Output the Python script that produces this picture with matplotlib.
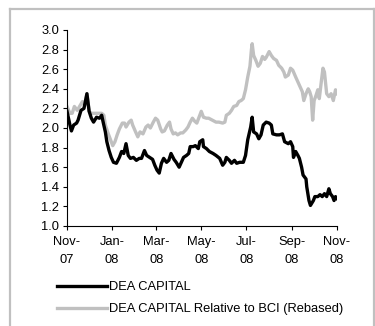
import matplotlib
matplotlib.use("Agg")
import matplotlib.pyplot as plt
import matplotlib.lines as mlines
import pandas as pd

plt.rcParams["font.family"] = ["Liberation Sans", "DejaVu Sans"]
plt.rcParams["font.size"] = 9.3

# days since 1 Nov 2007
dea_days = [0, 4, 6, 9, 13, 15, 19, 23, 27, 30,
            33, 36, 40, 44, 47, 49, 52, 54, 57, 60,
            63, 67, 71, 74, 77, 80, 83, 86, 90, 94,
            98, 101, 105, 108, 112, 116, 119, 122, 125, 128,
            131, 135, 138, 141, 145, 148, 152, 155, 158, 162,
            165, 167, 171, 174, 178, 180, 184, 185, 189, 193,
            198, 202, 207, 211, 214, 216, 220, 223, 227, 230,
            234, 239, 242, 245, 249, 251, 253, 257, 260, 263,
            266, 270, 274, 277, 279, 284, 288, 292, 295, 300,
            303, 306, 307, 310, 313, 315, 318, 320, 324, 325,
            328, 330, 334, 336, 340, 343, 346, 349, 352, 355,
            357, 360, 362, 364, 366]
dea_vals = [2.17, 2.03, 1.97, 2.03, 2.05, 2.08, 2.18, 2.20, 2.35, 2.17,
            2.10, 2.06, 2.11, 2.10, 2.13, 2.06, 1.96, 1.86, 1.77, 1.70,
            1.65, 1.64, 1.70, 1.76, 1.74, 1.84, 1.72, 1.69, 1.70, 1.67,
            1.69, 1.69, 1.77, 1.72, 1.70, 1.68, 1.62, 1.57, 1.54, 1.64,
            1.69, 1.65, 1.67, 1.74, 1.68, 1.65, 1.60, 1.65, 1.70, 1.72,
            1.74, 1.81, 1.81, 1.82, 1.79, 1.86, 1.88, 1.81, 1.79, 1.76,
            1.74, 1.72, 1.69, 1.62, 1.65, 1.70, 1.67, 1.64, 1.67, 1.64,
            1.65, 1.65, 1.72, 1.88, 2.01, 2.11, 1.96, 1.94, 1.89, 1.93,
            2.03, 2.06, 2.05, 2.03, 1.94, 1.93, 1.93, 1.94, 1.86, 1.84,
            1.86, 1.81, 1.70, 1.76, 1.72, 1.69, 1.60, 1.52, 1.48, 1.40,
            1.26, 1.21, 1.26, 1.30, 1.30, 1.32, 1.30, 1.33, 1.30, 1.38,
            1.33, 1.30, 1.26, 1.30, 1.28]

rel_days = [0, 4, 7, 10, 14, 17, 21, 24, 27, 30,
            33, 40, 47, 50, 52, 56, 59, 62, 65, 68,
            71, 75, 78, 80, 84, 87, 89, 93, 96, 99,
            103, 107, 110, 113, 117, 120, 123, 127, 129, 132,
            136, 139, 141, 144, 147, 150, 154, 157, 161, 164,
            167, 170, 173, 176, 179, 182, 185, 189, 192, 197,
            202, 206, 211, 214, 216, 220, 223, 226, 230, 233,
            236, 239, 242, 245, 248, 250, 251, 253, 256, 259,
            262, 265, 268, 270, 274, 277, 280, 284, 287, 291,
            294, 296, 300, 303, 306, 310, 313, 316, 319, 321,
            324, 327, 329, 331, 333, 335, 337, 340, 342, 345,
            347, 349, 352, 355, 358, 361, 364, 366]
rel_vals = [2.22, 2.15, 2.15, 2.22, 2.18, 2.22, 2.27, 2.23, 2.35, 2.17,
            2.15, 2.15, 2.15, 2.13, 2.03, 1.94, 1.88, 1.82, 1.86, 1.93,
            1.99, 2.05, 2.05, 2.01, 2.06, 2.08, 2.03, 1.96, 1.91, 1.96,
            1.94, 2.01, 2.03, 2.00, 2.06, 2.10, 2.08, 1.99, 1.96, 1.97,
            2.03, 2.06, 1.99, 1.94, 1.95, 1.93, 1.95, 1.95, 1.98, 2.01,
            2.06, 2.10, 2.07, 2.05, 2.11, 2.17, 2.11, 2.10, 2.10, 2.08,
            2.06, 2.06, 2.05, 2.06, 2.13, 2.15, 2.18, 2.22, 2.23, 2.27,
            2.28, 2.30, 2.39, 2.52, 2.63, 2.80, 2.86, 2.74, 2.69, 2.63,
            2.66, 2.73, 2.70, 2.72, 2.78, 2.74, 2.71, 2.69, 2.64, 2.61,
            2.57, 2.52, 2.54, 2.61, 2.59, 2.52, 2.47, 2.42, 2.37, 2.28,
            2.35, 2.40, 2.37, 2.32, 2.08, 2.28, 2.32, 2.39, 2.30, 2.49,
            2.61, 2.57, 2.35, 2.32, 2.35, 2.28, 2.39, 2.35]

tick_dates = ["2007-11-01", "2008-01-01", "2008-03-01", "2008-05-01",
              "2008-07-01", "2008-09-01", "2008-11-01"]
tick_labels = ["Nov-\n07", "Jan-\n08", "Mar-\n08", "May-\n08", "Jul-\n08", "Sep-\n08", "Nov-\n08"]

start = pd.Timestamp("2007-11-01")
dea_x = start + pd.to_timedelta(dea_days, unit="D")
rel_x = start + pd.to_timedelta(rel_days, unit="D")

fig = plt.figure(figsize=(3.75, 3.26), dpi=100)
ax = fig.add_axes([67 / 375, 100 / 326, 270 / 375, 196 / 326])

grey = "#c0c0c0"
ax.plot(rel_x, rel_vals, color=grey, linewidth=2.4, solid_joinstyle="round")
ax.plot(dea_x, dea_vals, color="black", linewidth=2.4, solid_joinstyle="round")

ax.set_xlim(pd.Timestamp(tick_dates[0]), pd.Timestamp(tick_dates[-1]))
ax.set_ylim(1.0, 3.0)
ax.set_yticks([1.0 + 0.2 * i for i in range(11)])
ax.yaxis.set_major_formatter(plt.FormatStrFormatter("%.1f"))
ax.set_xticks(pd.to_datetime(tick_dates))
ax.set_xticklabels(tick_labels, linespacing=1.7)

for side in ["top", "right"]:
    ax.spines[side].set_visible(False)
for side in ["left", "bottom"]:
    ax.spines[side].set_linewidth(0.8)
ax.tick_params(direction="out", length=3, width=0.8, labelsize=9.3)
ax.tick_params(axis="y", pad=2.5)
ax.tick_params(axis="x", pad=4)

# light grey frame round the whole chart
frame_kw = dict(color=grey, linewidth=1.6, transform=fig.transFigure)
fig.add_artist(mlines.Line2D([10 / 375, 10 / 375], [0, 1 - 9 / 326], **frame_kw))
fig.add_artist(mlines.Line2D([10 / 375, 374 / 375], [1 - 9 / 326, 1 - 9 / 326], **frame_kw))
fig.add_artist(mlines.Line2D([374 / 375, 374 / 375], [0, 1 - 9 / 326], **frame_kw))

h1 = mlines.Line2D([], [], color="black", linewidth=2.4, label="DEA CAPITAL")
h2 = mlines.Line2D([], [], color=grey, linewidth=2.4,
                   label="DEA CAPITAL Relative to BCI (Rebased)")
fig.legend(handles=[h1, h2], loc="upper left", bbox_to_anchor=(57 / 375, 1 - 281 / 326),
           frameon=False, handlelength=3.9, handletextpad=0.1, labelspacing=0.78,
           borderpad=0, borderaxespad=0, fontsize=9.3)

fig.savefig("out.png", dpi=100)
